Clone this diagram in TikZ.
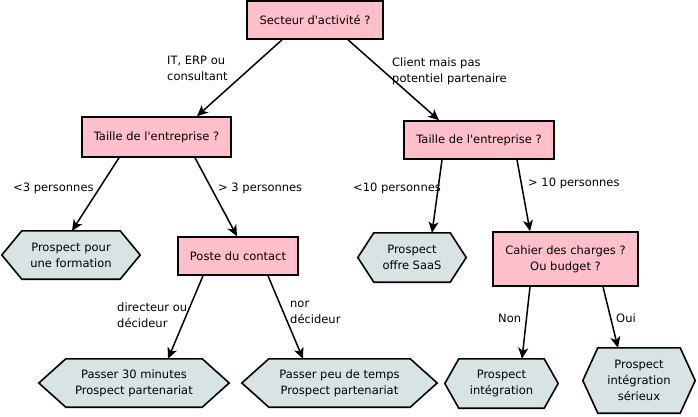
\documentclass[tikz,border=0pt]{standalone}
\usepackage{fontspec}
\setmainfont{DejaVu Sans}[Ligatures=TeXOff]
\usetikzlibrary{arrows.meta,backgrounds}
\definecolor{boxpink}{RGB}{255,192,203}
\definecolor{hexgrey}{RGB}{216,227,227}
% name, x, y, width, height, slant, text
\newcommand\hexnode[7]{%
  \node[hexbox, minimum width=#4bp, minimum height=#5bp] (#1) at (#2,#3) {#7};
  \begin{scope}[on background layer]
    \draw[hexline] ([xshift=#6bp]#1.north west) -- ([xshift=-#6bp]#1.north east) -- (#1.east)
      -- ([xshift=-#6bp]#1.south east) -- ([xshift=#6bp]#1.south west) -- (#1.west) -- cycle;
  \end{scope}}
\begin{document}
\begin{tikzpicture}[x=1bp,y=-1bp,
  font=\fontsize{11.5bp}{16bp}\selectfont,
  box/.style={draw, line width=1.6bp, fill=boxpink, inner sep=2bp, align=center},
  hexbox/.style={inner sep=0pt, align=center},
  hexline/.style={draw, line width=1.6bp, fill=hexgrey, line join=miter},
  arr/.style={-{Stealth[length=11bp,width=10bp,inset=3bp]}, line width=1.5bp},
  lbl/.style={anchor=west, inner sep=0pt, align=left}]
\useasboundingbox (0,0) rectangle (698,416);

\node[box, minimum width=136bp, minimum height=38bp] (sect) at (315,20) {Secteur d'activité ?};
\node[box, minimum width=149bp, minimum height=40bp] (tl) at (156.5,137) {Taille de l'entreprise ?};
\node[box, minimum width=150bp, minimum height=38bp] (tr) at (479,140) {Taille de l'entreprise ?};
\node[box, minimum width=120bp, minimum height=38bp] (poste) at (238,256) {Poste du contact};
\node[box, minimum width=145bp, minimum height=54bp] (cahier) at (565.5,259) {Cahier des charges ?\\Ou budget ?};

\hexnode{form}{71}{255}{138}{48}{20}{Prospect pour\\une formation}
\hexnode{p30}{134}{383}{190}{48}{27}{Passer 30 minutes\\Prospect partenariat}
\hexnode{peu}{339.5}{383}{195}{48}{27}{Passer peu de temps\\Prospect partenariat}
\hexnode{saas}{412}{257.5}{108}{49}{16}{Prospect\\offre SaaS}
\hexnode{integ}{501.5}{383.5}{113}{49}{14}{Prospect\\intégration}
\hexnode{serieux}{639}{380.5}{112}{65}{15}{Prospect\\intégration\\sérieux}

\draw[arr] ([xshift=-33bp]sect.south) -- ([xshift=40.5bp]tl.north);
\draw[arr] ([xshift=33bp]sect.south) -- ([xshift=-40bp]tr.north);
\draw[arr] ([xshift=-37.5bp]tl.south) -- ([xshift=1bp]form.north);
\draw[arr] ([xshift=38.5bp]tl.south) -- ([xshift=-1bp]poste.north);
\draw[arr] ([xshift=-35bp]poste.south) -- ([xshift=34bp]p30.north);
\draw[arr] ([xshift=30bp]poste.south) -- ([xshift=-36.5bp]peu.north);
\draw[arr] ([xshift=-37bp]tr.south) -- ([xshift=20bp]saas.north);
\draw[arr] ([xshift=38bp]tr.south) -- ([xshift=-35.5bp]cahier.north);
\draw[arr] ([xshift=-35.5bp]cahier.south) -- ([xshift=20.5bp]integ.north);
\draw[arr] ([xshift=37.5bp]cahier.south) -- ([xshift=-21bp]serieux.north);

\node[lbl] (l1) at (167,68.5) {IT, ERP ou\\consultant};
\node[lbl] (l2) at (392,71) {Client mais pas\\potentiel partenaire};
\node[lbl] (l3) at (13,188) {<3 personnes};
\node[lbl] (l4) at (218,188) {> 3 personnes};
\node[lbl] (l5) at (353,188) {<10 personnes};
\node[lbl] (l6) at (528,183) {> 10 personnes};
\node[lbl] (l7) at (117,315) {directeur ou\\décideur};
\node[lbl] (l8) at (290,312) {nor\\décideur};
\node[lbl] (l9) at (498,318) {Non};
\node[lbl] (l10) at (616,318) {Oui};
\end{tikzpicture}
\end{document}
